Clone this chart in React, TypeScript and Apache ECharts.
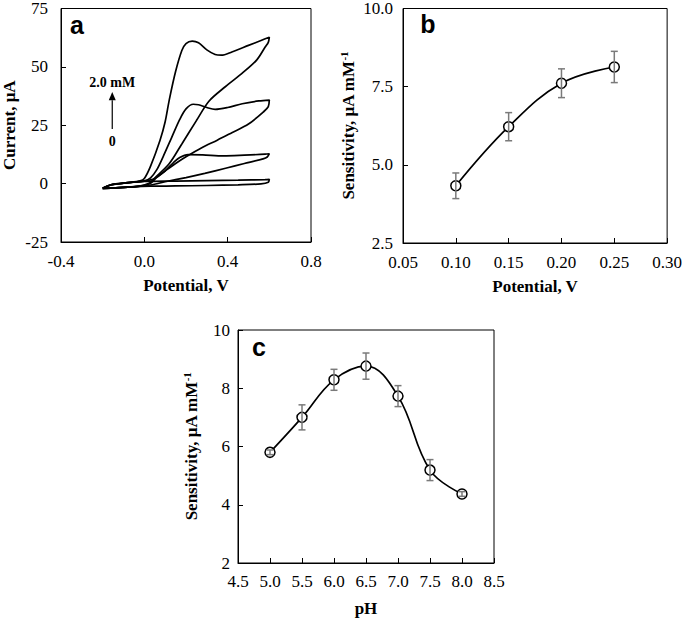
import React, { useEffect, useRef } from "react";
import * as echarts from "echarts";

// ---- Panel a: cyclic voltammograms (potential V, current µA), traced in scan order
const cv0: number[][] = [
  [-0.2, -2.0], [-0.16, -0.6], [-0.08, 0.3], [0.0, 0.9], [0.15, 1.1], [0.3, 1.3], [0.45, 1.5],
  [0.58, 1.7], [0.6, 1.8], [0.595, 0.6], [0.56, -0.1], [0.45, -0.5], [0.3, -0.8], [0.15, -1.0],
  [0.03, -1.1], [-0.08, -1.5], [-0.16, -1.9], [-0.2, -2.0],
];
const cv1: number[][] = [
  [-0.2, -2.0], [-0.16, -0.5], [-0.08, 0.4], [0.0, 1.1], [0.05, 2.2], [0.1, 5.5], [0.14, 9.0],
  [0.17, 11.2], [0.21, 12.4], [0.28, 12.3], [0.38, 11.9], [0.48, 12.2], [0.58, 12.6], [0.6, 12.8],
  [0.59, 11.4], [0.57, 10.6], [0.48, 8.6], [0.39, 6.6], [0.29, 4.4], [0.2, 2.6], [0.1, 0.8],
  [0.03, -0.6], [-0.08, -1.5], [-0.16, -1.9], [-0.2, -2.0],
];
const cv2: number[][] = [
  [-0.2, -2.0], [-0.16, -0.5], [-0.08, 0.4], [0.0, 1.2], [0.03, 2.5], [0.06, 6.0], [0.09, 11.5],
  [0.13, 19.5], [0.17, 27.5], [0.2, 32.0], [0.235, 34.0], [0.26, 33.8], [0.3, 32.6], [0.34, 31.8],
  [0.4, 32.6], [0.47, 34.2], [0.55, 35.4], [0.6, 35.8], [0.595, 33.0], [0.575, 31.0], [0.5, 25.5],
  [0.42, 21.8], [0.35, 18.6], [0.28, 15.6], [0.2, 11.5], [0.15, 8.6], [0.1, 5.4], [0.06, 2.8],
  [0.03, 0.2], [-0.03, -1.2], [-0.1, -1.6], [-0.16, -1.9], [-0.2, -2.0],
];
const cv3: number[][] = [
  [-0.2, -2.0], [-0.16, -0.5], [-0.08, 0.4], [-0.02, 1.2], [0.0, 2.2], [0.03, 7.5], [0.075, 18.5],
  [0.1, 26.5], [0.12, 36.0], [0.15, 48.0], [0.18, 57.0], [0.2, 60.0], [0.23, 61.0], [0.26, 60.3],
  [0.3, 57.3], [0.34, 55.3], [0.37, 55.0], [0.42, 56.4], [0.5, 59.2], [0.56, 61.3], [0.6, 62.7],
  [0.595, 60.5], [0.58, 58.5], [0.54, 53.0], [0.47, 47.3], [0.39, 41.6], [0.31, 35.3],
  [0.25, 27.0], [0.18, 17.0], [0.12, 8.6], [0.05, 2.4], [0.02, 0.0], [-0.03, -1.2],
  [-0.1, -1.6], [-0.16, -1.9], [-0.2, -2.0],
];
const cvCurves = [cv0, cv1, cv2, cv3];

// ---- Panel b: sensitivity vs applied potential
const potentialB = [0.1, 0.15, 0.2, 0.25];
const sensB = [4.33, 6.22, 7.61, 8.13];
const errB = [0.41, 0.45, 0.46, 0.5];

// ---- Panel c: sensitivity vs pH
const phC = [5.0, 5.5, 6.0, 6.5, 7.0, 7.5, 8.0];
const sensC = [5.8, 7.0, 8.29, 8.76, 7.73, 5.19, 4.37];
const errC = [0.08, 0.43, 0.36, 0.45, 0.36, 0.36, 0.08];

const SERIF = "Liberation Serif";
const SANS = "Liberation Sans";

const labelRich = { t: { fontFamily: SERIF, fontSize: 17, fontWeight: "normal", color: "#000" } };

function xAxis(gridIndex: number, min: number, max: number, interval: number, digits: number,
  name: string, nameGap: number, margin: number) {
  return {
    type: "value", gridIndex, min, max, interval, name, nameLocation: "middle", nameGap,
    nameTextStyle: { fontFamily: SERIF, fontWeight: "bold", fontSize: 17, color: "#000" },
    axisLine: { show: true, onZero: false, lineStyle: { color: "#000", width: 1 } },
    axisTick: { show: true, inside: true, length: 5, lineStyle: { color: "#000" } },
    axisLabel: {
      fontFamily: SERIF, fontSize: 17, fontWeight: "normal", color: "#000", margin,
      formatter: (v: number) => "{t|" + v.toFixed(digits) + "}",
      rich: labelRich,
    },
    splitLine: { show: false },
  };
}

function yAxis(gridIndex: number, min: number, max: number, interval: number, digits: number,
  name: string, nameGap: number, margin: number, rich?: boolean) {
  return {
    type: "value", gridIndex, min, max, interval, name, nameLocation: "middle", nameGap,
    nameRotate: 90,
    nameTextStyle: {
      fontFamily: SERIF, fontWeight: "bold", fontSize: 17, color: "#000",
      rich: rich
        ? {
            m: { fontFamily: SERIF, fontWeight: "bold", fontSize: 17, color: "#000", lineHeight: 20 },
            sup: { fontFamily: SERIF, fontWeight: "bold", fontSize: 11, color: "#000", lineHeight: 20, verticalAlign: "top", padding: [0, 0, 8, 0] },
          }
        : undefined,
    },
    axisLine: { show: true, onZero: false, lineStyle: { color: "#000", width: 1 } },
    axisTick: { show: true, inside: true, length: 5, lineStyle: { color: "#000" } },
    axisLabel: {
      fontFamily: SERIF, fontSize: 17, fontWeight: "normal", color: "#000", margin,
      formatter: (v: number) => "{t|" + v.toFixed(digits) + "}",
      rich: labelRich,
    },
    splitLine: { show: false },
  };
}

function errorSeries(axisIndex: number, xs: number[], ys: number[], es: number[]) {
  return {
    type: "custom", xAxisIndex: axisIndex, yAxisIndex: axisIndex, z: 5,
    data: xs.map((x, i) => [x, ys[i] - es[i], ys[i] + es[i]]),
    encode: { x: 0, y: [1, 2] },
    renderItem: (params: any, api: any) => {
      const x = api.value(0);
      const lo = api.coord([x, api.value(1)]);
      const hi = api.coord([x, api.value(2)]);
      const w = 3.5;
      const st = { stroke: "#7a7a7a", lineWidth: 1.5 };
      return {
        type: "group",
        children: [
          { type: "line", shape: { x1: lo[0], y1: lo[1], x2: hi[0], y2: hi[1] }, style: st },
          { type: "line", shape: { x1: hi[0] - w, y1: hi[1], x2: hi[0] + w, y2: hi[1] }, style: st },
          { type: "line", shape: { x1: lo[0] - w, y1: lo[1], x2: lo[0] + w, y2: lo[1] }, style: st },
        ],
      };
    },
  };
}

function pointSeries(axisIndex: number, xs: number[], ys: number[]) {
  return {
    type: "line", xAxisIndex: axisIndex, yAxisIndex: axisIndex, z: 3,
    data: xs.map((x, i) => [x, ys[i]]),
    smooth: 0.4, symbol: "circle", symbolSize: 10,
    itemStyle: { color: "#fff", borderColor: "#000", borderWidth: 1.5 },
    lineStyle: { color: "#000", width: 1.7 },
  };
}

export default function App() {
  const ref = useRef<HTMLDivElement>(null);
  useEffect(() => {
    if (!ref.current) return;
    const chart = echarts.init(ref.current, undefined, { renderer: "svg" });
    const gridStyle = { show: true, borderColor: "#000", borderWidth: 1, backgroundColor: "transparent" };
    chart.setOption({
      animation: false,
      backgroundColor: "#fff",
      textStyle: { fontFamily: SERIF, color: "#000" },
      grid: [
        { left: 56, top: 5, width: 255, height: 237, ...gridStyle },
        { left: 403, top: 6, width: 269, height: 237, ...gridStyle },
        { left: 238, top: 330, width: 256, height: 236, ...gridStyle },
      ],
      xAxis: [
        xAxis(0, -0.4, 0.8, 0.4, 1, "Potential, V", 35, 11),
        xAxis(1, 0.05, 0.3, 0.05, 2, "Potential, V", 35, 11),
        xAxis(2, 4.5, 8.5, 0.5, 1, "pH", 37, 10),
      ],
      yAxis: [
        yAxis(0, -25, 75, 25, 0, "Current, μA", 43, 13),
        yAxis(1, 2.5, 10, 2.5, 1, "{m|Sensitivity, μA mM}{sup|-1}", 45, 10, true),
        yAxis(2, 2, 10, 2, 0, "{m|Sensitivity, μA mM}{sup|-1}", 37, 8, true),
      ],
      series: [
        ...cvCurves.map((c, i) => ({
          name: "cv" + i, type: "line", xAxisIndex: 0, yAxisIndex: 0, data: c,
          smooth: 0.3, symbol: "none", lineStyle: { color: "#000", width: 1.7 },
        })),
        pointSeries(1, potentialB, sensB),
        errorSeries(1, potentialB, sensB, errB),
        pointSeries(2, phC, sensC),
        errorSeries(2, phC, sensC, errC),
      ],
    });

    // annotation arrow in panel a, located in data coordinates
    const ax = -0.154;
    const tip = chart.convertToPixel({ gridIndex: 0 } as any, [ax, 39.2]) as number[];
    const headBase = chart.convertToPixel({ gridIndex: 0 } as any, [ax, 35.7]) as number[];
    const tail = chart.convertToPixel({ gridIndex: 0 } as any, [ax, 23.4]) as number[];
    const top = chart.convertToPixel({ gridIndex: 0 } as any, [ax, 43.1]) as number[];
    const bottom = chart.convertToPixel({ gridIndex: 0 } as any, [ax, 18.0]) as number[];
    const letter = (t: string, x: number, y: number) => ({
      type: "text", x, y,
      style: { text: t, fontFamily: SANS, fontWeight: "bold", fontSize: 25, fill: "#000", align: "center", verticalAlign: "middle" },
    });
    chart.setOption({
      graphic: [
        letter("a", 77, 25),
        letter("b", 428, 24),
        letter("c", 259, 347),
        { type: "line", shape: { x1: tail[0], y1: tail[1], x2: headBase[0], y2: headBase[1] }, style: { stroke: "#000", lineWidth: 1.2 } },
        { type: "polygon", shape: { points: [[tip[0], tip[1]], [tip[0] - 3.5, headBase[1]], [tip[0] + 3.5, headBase[1]]] }, style: { fill: "#000" } },
        { type: "text", x: top[0], y: top[1], style: { text: "2.0 mM", fontFamily: SERIF, fontWeight: "bold", fontSize: 14, fill: "#000", align: "center", verticalAlign: "middle" } },
        { type: "text", x: bottom[0], y: bottom[1], style: { text: "0", fontFamily: SERIF, fontWeight: "bold", fontSize: 14, fill: "#000", align: "center", verticalAlign: "middle" } },
      ],
    });
    return () => chart.dispose();
  }, []);
  return (
    <div
      ref={ref}
      style={{ position: "fixed", left: 0, top: 0, width: 685, height: 618, background: "#fff" }}
    />
  );
}
